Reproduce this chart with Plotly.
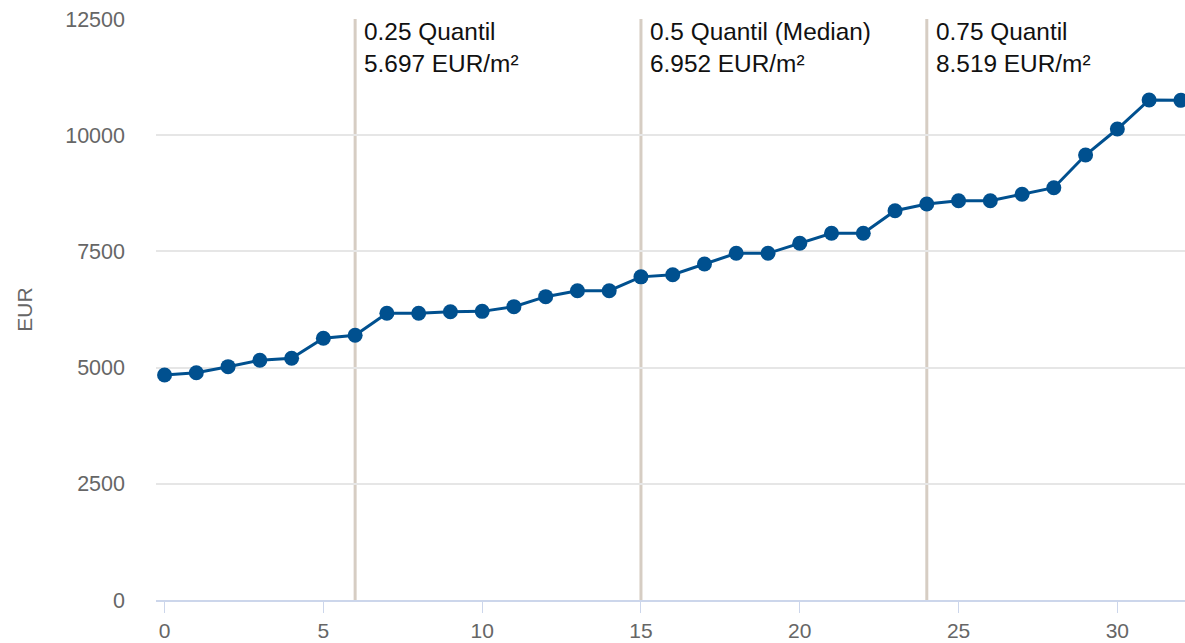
import plotly.graph_objects as go

# Data
x_index = list(range(33))
eur_values = [4841, 4890, 5020, 5157, 5200, 5630, 5697, 6168, 6168, 6203, 6210,
              6311, 6526, 6655, 6655, 6952, 6999, 7229, 7459, 7459, 7674, 7889,
              7889, 8376, 8519, 8591, 8591, 8728, 8871, 9574, 10133, 10757, 10750]
quantile_positions = [6, 15, 24]
quantile_labels = ["0.25 Quantil", "0.5 Quantil (Median)", "0.75 Quantil"]
quantile_values = ["5.697 EUR/m²", "6.952 EUR/m²", "8.519 EUR/m²"]
y_ticks = [0, 2500, 5000, 7500, 10000, 12500]
y_tick_labels = ["0", "2500", "5000", "7500", "10000", "12500"]
x_ticks = [0, 5, 10, 15, 20, 25, 30]

FONT = "Liberation Sans, Arial, Helvetica, sans-serif"

fig = go.Figure()

for qx in quantile_positions:
    fig.add_shape(type="line", xref="x", yref="y", x0=qx, x1=qx, y0=0, y1=12500,
                  line=dict(color="#d6cdc3", width=3), layer="below")

fig.add_trace(go.Scatter(
    x=x_index, y=eur_values, mode="lines+markers",
    line=dict(color="#00508f", width=3),
    marker=dict(color="#00508f", size=15),
    cliponaxis=False, showlegend=False,
))

for qx, lab, val in zip(quantile_positions, quantile_labels, quantile_values):
    fig.add_annotation(x=qx, y=1, xref="x", yref="paper", xanchor="left", yanchor="top",
                       text=f"{lab}<br>{val}", showarrow=False, align="left",
                       xshift=7, yshift=3,
                       font=dict(family=FONT, size=24.4, color="#111111"))

fig.update_layout(
    width=1185, height=643,
    margin=dict(l=156, r=0, t=19, b=43),
    plot_bgcolor="white", paper_bgcolor="white",
    font=dict(family=FONT, color="#666666", size=21),
    xaxis=dict(range=[-0.27, 32.13], tickvals=x_ticks, showgrid=False, zeroline=False,
               showline=True, linecolor="#ccd6eb", linewidth=2,
               ticks="outside", ticklen=11, tickcolor="#ccd6eb", tickwidth=1,
               tickfont=dict(size=21, color="#666666")),
    yaxis=dict(range=[0, 12500], tickvals=y_ticks, ticktext=y_tick_labels,
               showgrid=True, gridcolor="#e6e6e6",
               gridwidth=1.5, zeroline=False, showline=False, ticks="",
               ticklabelstandoff=30,
               tickfont=dict(size=21.5, color="#666666"),
               title=dict(text="EUR", font=dict(size=21, color="#666666"), standoff=26)),
)

fig.write_html("out.html", config={"displayModeBar": False},
               post_script="document.body.style.margin='0';document.body.style.overflow='hidden';")
